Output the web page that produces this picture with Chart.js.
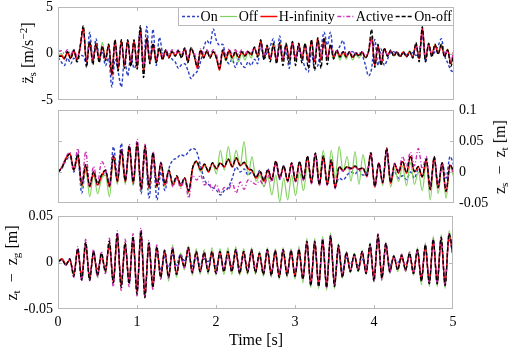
<!DOCTYPE html>
<html>
<head>
<meta charset="utf-8">
<script src="https://cdn.jsdelivr.net/npm/chart.js@4.4.0/dist/chart.umd.min.js"></script>
<style>
  body { margin: 0; background: #fff; }
  #wrap { position: relative; width: 510px; height: 352px; overflow: hidden; font-family: "Liberation Serif", "Times New Roman", serif; color: #000; }
  canvas { position: absolute; left: 0; }
  .lab { position: absolute; white-space: nowrap; font-size: 16px; line-height: 1; transform: translate(-50%, -50%); }
  .rot { transform: translate(-50%, -50%) rotate(-90deg); }
  .lab sub { font-size: 0.7em; vertical-align: -0.25em; line-height: 0; }
  .lab sup { font-size: 0.7em; vertical-align: 0.5em; line-height: 0; }
</style>
</head>
<body>
<div id="wrap">
  <canvas id="c1" width="510" height="108" style="top:0px"></canvas>
  <canvas id="c2" width="510" height="108" style="top:104px"></canvas>
  <canvas id="c3" width="510" height="142" style="top:210px"></canvas>
  <div class="lab rot" style="left:28px;top:53px">z&#776;<sub>s</sub> [m/s<sup>&minus;2</sup>]</div>
  <div class="lab rot" style="left:500px;top:157px">z<sub>s</sub> &nbsp;&minus;&nbsp; z<sub>t</sub> [m]</div>
  <div class="lab rot" style="left:12px;top:263px">z<sub>t</sub> &nbsp;&minus;&nbsp; z<sub>g</sub> [m]</div>
  <div class="lab" style="left:256px;top:340px">Time [s]</div>
</div>
<script>
// series names, in legend order
const seriesNames = ['On', 'Off', 'H-infinity', 'Active', 'On-off'];
const seriesColors = ['#2b40c4', '#80d25e', '#ff0000', '#cc33b4', '#000000'];
const seriesDash = [[3, 2], [], [], [4, 2, 1, 2], [4, 2]];
const seriesWidth = [1.4, 1.2, 1.5, 1.4, 1.3];

// tick labels
const timeTicks = [0, 1, 2, 3, 4, 5];
const accTicks = [-5, 0, 5];
const suspTicks = [-0.05, 0, 0.05, 0.1];
const tyreTicks = [-0.05, 0, 0.05];

// sample times [s]
const time40 = [0,0.04,0.08,0.12,0.16,0.2,0.24,0.28,0.32,0.36,0.4,0.44,0.48,0.52,0.56,0.6,0.64,0.68,0.72,0.76,
  0.8,0.84,0.88,0.92,0.96,1,1.04,1.08,1.12,1.16,1.2,1.24,1.28,1.32,1.36,1.4,1.44,1.48,1.52,1.56,
  1.6,1.64,1.68,1.72,1.76,1.8,1.84,1.88,1.92,1.96,2,2.04,2.08,2.12,2.16,2.2,2.24,2.28,2.32,2.36,
  2.4,2.44,2.48,2.52,2.56,2.6,2.64,2.68,2.72,2.76,2.8,2.84,2.88,2.92,2.96,3,3.04,3.08,3.12,3.16,
  3.2,3.24,3.28,3.32,3.36,3.4,3.44,3.48,3.52,3.56,3.6,3.64,3.68,3.72,3.76,3.8,3.84,3.88,3.92,3.96,
  4,4.04,4.08,4.12,4.16,4.2,4.24,4.28,4.32,4.36,4.4,4.44,4.48,4.52,4.56,4.6,4.64,4.68,4.72,4.76,
  4.8,4.84,4.88,4.92,4.96,5];
const time50 = [0,0.05,0.1,0.15,0.2,0.25,0.3,0.35,0.4,0.45,0.5,0.55,0.6,0.65,0.7,0.75,0.8,0.85,0.9,0.95,
  1,1.05,1.1,1.15,1.2,1.25,1.3,1.35,1.4,1.45,1.5,1.55,1.6,1.65,1.7,1.75,1.8,1.85,1.9,1.95,
  2,2.05,2.1,2.15,2.2,2.25,2.3,2.35,2.4,2.45,2.5,2.55,2.6,2.65,2.7,2.75,2.8,2.85,2.9,2.95,
  3,3.05,3.1,3.15,3.2,3.25,3.3,3.35,3.4,3.45,3.5,3.55,3.6,3.65,3.7,3.75,3.8,3.85,3.9,3.95,
  4,4.05,4.1,4.15,4.2,4.25,4.3,4.35,4.4,4.45,4.5,4.55,4.6,4.65,4.7,4.75,4.8,4.85,4.9,4.95,5];

// body acceleration [m/s^2], sampled on time40
const accOn = [-0.4,-0.9,-1.3,-0.5,-1.1,-0.5,-0.9,-0.2,-0.3,-1.1,
  2.3,-0.6,1.6,-0.2,0.1,-1.3,-0.5,-3.6,-0.6,-2.0,
  -3.6,-0.6,-2.4,-0.2,-1.6,-0.5,2.8,-0.9,2.9,-0.9,
  2.6,-1.3,1.75,0.1,-0.2,0.1,-0.6,-0.9,-1.6,-1.2,
  -1.1,-1.8,-2.7,-2.2,-1.9,-0.9,0.6,1.4,1.0,2.65,
  1.4,0.9,1.0,-0.5,-1.1,-0.6,-1.5,-0.6,-1.2,-1.5,
  -0.9,-1.3,-0.6,-1.1,0.9,-0.6,0.1,0.8,1.6,-0.8,
  1.9,-0.4,0.2,-1.6,1.2,-0.2,0.3,-0.5,-1.5,-2.0,
  0.1,-1.6,-1.3,0.5,2.3,0.9,2.3,-0.2,0.2,0.8,
  1.4,-0.2,0.1,0.2,-0.2,-0.1,-0.2,-1.2,-2.4,-1.6,
  1.5,-1.3,0.5,-1.3,-0.6,0.1,0.2,-0.1,-0.2,0.0,
  -0.1,-0.2,0.1,-0.2,0.2,1.9,-0.9,0.9,-0.2,0.2,
  0.8,1.6,-0.2,-1.0,-1.8,-2.0];
const accOff = [-0.2,0.0,-0.4,0.2,-0.3,0.3,-0.6,0.8,2.6,-0.8,
  1.1,-0.7,1.0,-0.6,1.2,-0.5,1.1,-2.0,1.3,-1.4,
  1.3,-1.2,1.3,-1.0,1.3,-1.3,2.4,-1.8,1.5,-0.8,
  1.0,-0.7,0.6,-0.5,0.4,-0.3,0.3,-0.2,0.3,-0.3,
  0.6,-0.8,0.7,-0.3,-1.4,0.4,-0.4,0.3,-0.5,0.2,
  -0.6,-1.6,0.2,-0.8,0.1,-0.9,0.0,-0.9,0.0,-0.7,
  0.1,-0.5,0.6,-0.3,1.3,-0.5,0.8,-0.6,1.0,-0.7,
  1.1,-0.7,1.1,-0.6,1.2,-0.7,1.0,-0.6,1.1,-0.8,
  1.3,-0.8,1.5,-0.7,1.4,-0.6,0.8,-0.6,0.1,-0.7,
  0.0,-0.6,0.1,-0.7,-0.1,-0.5,0.1,-0.5,0.2,1.5,
  -1.1,0.8,-1.0,0.5,-0.3,0.3,-0.3,0.2,-0.3,0.2,
  -0.3,0.3,-0.3,1.1,-0.5,2.5,-0.5,1.1,-0.1,1.0,
  0.1,1.0,-0.2,0.5,-1.0,0.4];
const accHinf = [-0.4,-0.2,-0.6,0.1,-0.5,0.3,-0.7,0.7,2.8,-0.9,
  1.2,-0.8,1.0,-0.75,0.7,-0.6,0.9,-2.4,1.4,-1.6,
  1.4,-1.3,1.4,-1.1,1.4,-1.5,2.6,-2.0,1.6,-0.9,
  1.0,-0.8,0.5,-0.6,0.3,-0.4,0.15,-0.2,0.2,-0.4,
  0.5,-0.9,0.5,-0.2,-1.6,0.3,-0.4,0.2,-0.4,0.15,
  -0.4,-1.8,0.3,-0.6,0.3,-0.4,0.15,-0.4,0.15,-0.2,
  0.15,-0.1,0.6,-0.2,1.4,-0.4,0.7,-0.6,0.9,-0.75,
  1.0,-0.75,1.0,-0.6,1.2,-0.75,1.0,-0.6,1.0,-0.9,
  1.4,-0.9,1.6,-0.75,1.6,-0.6,0.9,-0.4,0.3,-0.3,
  0.15,-0.3,0.1,-0.4,0.0,-0.2,0.15,-0.4,0.15,1.8,
  -1.3,0.9,-1.1,0.5,-0.2,0.3,-0.2,0.15,-0.3,0.15,
  -0.3,0.15,-0.4,1.0,-0.6,2.8,-0.6,1.0,-0.2,0.9,
  0.0,0.9,-0.2,0.4,-1.1,0.3];
const accActive = [0.2,0.3,0.0,0.4,-0.1,0.4,-0.3,0.5,2.2,-0.6,
  0.9,-0.5,0.8,-0.5,0.6,-0.4,0.7,-1.8,1.1,-1.2,
  1.1,-1.0,1.1,-0.8,1.1,-1.1,2.0,-1.5,1.2,-0.6,
  0.8,-0.5,0.5,-0.3,0.4,-0.1,0.4,0.0,0.4,-0.1,
  0.6,-0.5,0.6,0.1,-1.0,0.5,-0.1,0.4,-0.1,0.4,
  -0.1,-1.2,0.5,-0.3,0.5,-0.1,0.4,-0.1,0.4,0.0,
  0.3,0.0,0.6,0.0,1.1,-0.2,0.6,-0.4,0.7,-0.5,
  0.8,-0.5,0.8,-0.4,0.9,-0.5,0.8,-0.4,0.8,-0.6,
  1.1,-0.6,1.3,-0.5,1.2,-0.4,0.7,-0.2,0.3,-0.1,
  0.2,-0.1,0.2,-0.2,0.1,0.0,0.2,-0.2,0.2,1.4,
  -1.0,0.7,-0.8,0.4,-0.1,0.3,-0.1,0.2,-0.2,0.2,
  -0.2,0.2,-0.3,0.8,-0.4,2.1,-0.4,0.8,-0.1,0.7,
  0.1,0.7,-0.1,0.3,-0.8,0.3];
const accOnoff = [-0.3,-0.3,-0.5,0.2,-0.6,0.4,-0.9,0.8,3.0,-1.5,
  1.3,-1.2,1.1,-1.0,0.8,-0.8,1.0,-2.2,1.5,-1.9,
  1.5,-1.6,1.5,-1.4,1.5,-1.7,3.0,-2.6,1.7,-1.1,
  1.1,-1.0,0.6,-0.7,0.4,-0.5,0.2,-0.3,0.3,-0.5,
  0.6,-1.0,0.6,-0.3,-1.4,0.4,-0.5,0.3,-0.5,0.2,
  -0.5,-1.6,0.4,-0.7,0.4,-0.5,0.2,-0.5,0.2,-0.3,
  0.2,-0.2,0.7,-0.4,1.5,-0.7,0.9,-0.9,1.1,-1.1,
  1.2,-1.3,1.1,-1.1,1.3,-1.3,1.1,-1.0,1.1,-1.6,
  1.5,-1.8,1.7,-1.6,1.7,-1.2,1.0,-0.6,0.4,-0.4,
  0.2,-0.4,0.2,-0.5,0.1,-0.3,0.2,-0.5,0.2,2.6,
  -1.5,1.0,-1.3,0.6,-0.3,0.4,-0.3,0.2,-0.4,0.2,
  -0.4,0.2,-0.5,1.2,-0.9,2.9,-0.9,1.1,-0.4,1.0,
  -0.1,1.0,-0.4,0.4,-1.4,0.2];

// suspension deflection zs - zt [mm], sampled on time50
const suspOn = [0,6,18,25,0,22,-34,5,-25,-5,
  -22,-10,0,-18,41,-5,46,-10,38,-20,
  40,-35,30,-42,20,-45,0,-30,5,19,
  22,28,26,33,38,33,10,-13,-20,-25,
  -29,-37,-30,-25,-10,8,0,5,-5,0,
  -8,3,-12,5,-13,15,-12,10,-14,12,
  -15,16,-12,24,-16,28,-20,22,-20,15,
  -20,-10,-13,-5,0,-3,3,-5,0,25,
  -22,12,-15,30,-12,0,-10,-6,-12,0,
  -10,5,-8,15,-20,18,-20,15,-10,25,
  10];
const suspOff = [0,8,21,28,2,26,-26,8,-40,-2,
  -35,-10,-5,-40,22,-20,32,-20,38,-22,
  43,-32,40,-29,31,-26,16,-24,4,-23,
  -8,-24,-10,-34,8,15,0,10,3,14,
  -3,35,3,41,8,35,10,49,-5,25,
  -15,-5,-24,-8,-37,-5,-48,-10,-45,-5,
  -38,0,-30,10,-10,30,-5,35,-20,35,
  -10,41,0,25,-15,33,-20,28,0,30,
  -24,14,-22,35,-24,5,-15,10,-22,15,
  -20,0,-30,15,-45,18,-35,10,-42,8,
  -10];
const suspHinf = [0,8,22,30,3,28,-22,11,-24,0,
  -21,-6,2,-24,25,-16,35,-16,41,-18,
  46,-29,41,-26,30,-24,14,-21,2,-21,
  -8,-22,-10,-32,6,17,3,12,0,14,
  5,14,8,20,8,22,10,15,5,2,
  -10,0,-15,3,-13,17,-10,9,-15,14,
  -15,16,-13,25,-18,30,-21,25,-21,19,
  -26,8,2,8,5,9,4,6,-7,30,
  -24,14,-18,38,-18,12,-2,17,-2,25,
  0,8,-8,20,-29,24,-26,14,-32,11,
  -2];
const suspActive = [0,8,24,32,5,38,-20,33,-22,9,
  -18,17,5,-22,28,-14,38,-14,45,-16,
  53,-27,45,-24,33,-22,16,-20,2,-24,
  -10,-26,-12,-42,-5,-13,-5,-21,-16,-29,
  -20,-34,-25,-29,-18,-34,-16,-28,-13,-16,
  -20,-14,-22,-5,-16,15,-11,8,-16,13,
  -16,15,-14,24,-19,29,-22,24,-22,18,
  -27,7,1,7,4,8,3,5,-8,33,
  -25,15,-17,36,-15,14,2,25,10,32,
  10,38,5,25,-27,24,-25,15,-30,12,
  -2];
const suspOnoff = [0,7,21,29,4,29,-20,12,-22,1,
  -19,-4,3,-22,26,-14,36,-14,42,-16,
  47,-27,42,-24,31,-22,15,-19,3,-19,
  -6,-20,-9,-30,7,18,4,13,1,15,
  6,15,9,21,9,23,11,16,6,3,
  -9,1,-14,4,-12,18,-9,10,-14,15,
  -14,17,-12,26,-17,31,-20,26,-20,20,
  -25,9,3,9,6,10,5,7,-6,31,
  -23,15,-17,39,-17,13,-1,18,-1,26,
  1,9,-7,21,-28,25,-25,15,-31,12,
  -1];

// tyre deflection zt - zg [mm], sampled on time50
const tyreOn = [1,3,-1,2,-10,11,-13,15,-12,6,
  -7,4,-4,16,-17,24,-20,16,-17,22,
  -27,27,-30,17,-20,11,-8,6,-5,8,
  -3,9,2,8,-4,5,-3,4,1,8,
  -4,6,-2,5,-4,8,-5,6,-4,8,
  -5,6,-8,10,-10,9,-12,11,-11,10,
  -12,11,-14,18,-20,18,-21,20,-22,24,
  -20,12,-9,5,-2,6,-3,4,-5,12,
  -13,24,-12,14,-4,5,0,4,-3,7,
  -8,10,-15,14,-18,20,-18,22,-20,26,
  6];
const tyreOff = [0,4,-2,3,-14,14,-18,21,-20,12,
  -16,10,-11,22,-22,30,-26,22,-22,28,
  -33,33,-37,22,-27,18,-18,14,-20,19,
  -16,10,-8,18,-14,15,-13,14,-13,16,
  -14,15,-13,16,-13,17,-14,15,-13,16,
  -13,12,-15,16,-16,15,-18,16,-16,15,
  -18,17,-22,26,-27,26,-28,28,-30,32,
  -28,20,-17,12,-11,10,-10,13,-13,21,
  -21,30,-19,22,-12,8,-10,9,-10,12,
  -14,16,-24,21,-26,28,-26,30,-28,34,
  10];
const tyreHinf = [0,4,-2,3,-13,14,-17,20,-17,11,
  -13,9,-9,21,-21,29,-25,20,-21,26,
  -32,32,-35,20,-25,16,-15,12,-15,14,
  -12,7,-4,15,-10,11,-9,10,-9,11,
  -11,11,-9,11,-9,13,-11,11,-10,13,
  -10,9,-12,13,-13,12,-15,13,-13,12,
  -14,13,-17,21,-23,21,-24,23,-25,27,
  -24,17,-15,10,-9,8,-8,11,-11,18,
  -18,28,-16,19,-9,6,-7,7,-7,9,
  -11,13,-18,17,-21,23,-21,25,-23,29,
  8];
const tyreActive = [0,3,-3,4,-16,17,-20,25,-20,14,
  -16,12,-12,26,-26,34,-30,25,-26,31,
  -36,37,-37,24,-29,19,-18,14,-17,16,
  -13,9,-6,17,-12,12,-10,12,-10,12,
  -12,12,-10,12,-10,14,-12,12,-11,14,
  -11,10,-13,14,-14,13,-16,14,-14,13,
  -15,14,-18,22,-24,23,-26,26,-27,29,
  -25,18,-16,11,-10,9,-9,12,-12,19,
  -20,31,-19,21,-11,7,-8,9,-9,11,
  -12,14,-20,19,-23,26,-23,28,-25,31,
  9];
const tyreOnoff = [1,3,-3,4,-15,15,-19,22,-19,12,
  -14,10,-10,23,-22,31,-27,21,-23,28,
  -34,34,-38,21,-27,17,-16,13,-16,15,
  -13,8,-5,16,-11,12,-10,11,-10,12,
  -12,12,-10,12,-10,14,-12,12,-11,14,
  -11,10,-13,14,-14,13,-16,14,-14,13,
  -15,14,-18,23,-25,23,-26,25,-27,29,
  -26,19,-16,11,-10,9,-9,12,-12,20,
  -20,30,-17,21,-10,7,-8,8,-8,10,
  -12,14,-20,19,-23,25,-23,27,-25,31,
  9];

Chart.defaults.font.family = '"Liberation Serif", "Times New Roman", serif';
const tickFont = { family: '"Liberation Serif", "Times New Roman", serif', size: 14 };
const frameColor = '#b9b9b9';

function buildSets(times, arrays, unit) {
  return arrays.map((vals, i) => ({
    label: seriesNames[i],
    data: vals.map((v, j) => ({ x: times[j], y: v * unit })),
    borderColor: seriesColors[i],
    borderWidth: seriesWidth[i],
    borderDash: seriesDash[i],
    pointRadius: 0,
    fill: false,
    cubicInterpolationMode: 'monotone',
    order: seriesNames.length - i   // last series ends up on top
  }));
}

function xScale(showLabels, height) {
  return {
    type: 'linear', min: 0, max: 5,
    afterBuildTicks: s => { s.ticks = timeTicks.map(v => ({ value: v })); },
    grid: { display: false, drawTicks: false },
    border: { display: false },
    ticks: { display: showLabels, autoSkip: false, maxRotation: 0, padding: 5, font: tickFont, color: '#000', callback: v => String(v) },
    afterFit: s => { s.height = height; s.paddingLeft = 0; s.paddingRight = 0; }
  };
}

function yScale(min, max, ticks, position, width) {
  return {
    type: 'linear', min: min, max: max, position: position,
    afterBuildTicks: s => { s.ticks = ticks.map(v => ({ value: v })); },
    grid: { display: false, drawTicks: false },
    border: { display: false },
    ticks: { autoSkip: false, padding: 5, font: tickFont, color: '#000', callback: v => String(v) },
    afterFit: s => { s.width = width; s.paddingTop = 0; s.paddingBottom = 0; }
  };
}

// box round the axes with short inward tick marks, like the original plot
const framePlugin = {
  id: 'frame',
  afterDatasetsDraw(chart) {
    const { ctx, chartArea: a } = chart;
    const x = chart.scales.x, y = chart.scales.y;
    ctx.save();
    ctx.strokeStyle = frameColor;
    ctx.lineWidth = 1;
    ctx.setLineDash([]);
    ctx.strokeRect(a.left + 0.5, a.top + 0.5, a.right - a.left - 1, a.bottom - a.top - 1);
    ctx.beginPath();
    x.ticks.forEach(t => {
      const px = Math.round(x.getPixelForValue(t.value)) + 0.5;
      if (px < a.left + 2 || px > a.right - 2) return;
      ctx.moveTo(px, a.top); ctx.lineTo(px, a.top + 4);
      ctx.moveTo(px, a.bottom); ctx.lineTo(px, a.bottom - 4);
    });
    y.ticks.forEach(t => {
      const py = Math.round(y.getPixelForValue(t.value)) + 0.5;
      if (py < a.top + 2 || py > a.bottom - 2) return;
      ctx.moveTo(a.left, py); ctx.lineTo(a.left + 4, py);
      ctx.moveTo(a.right, py); ctx.lineTo(a.right - 4, py);
    });
    ctx.stroke();
    ctx.restore();
  }
};

// boxed one-row legend in the top right corner of the first panel
const legendPlugin = {
  id: 'boxLegend',
  afterDraw(chart) {
    const { ctx, chartArea: a } = chart;
    const sets = chart.data.datasets;
    const lineLen = 17, gapIn = 1.5, gapOut = 2.5, h = 18;
    ctx.save();
    ctx.font = '14px "Liberation Serif"';
    let total = 0;
    sets.forEach((d, i) => {
      total += lineLen + gapIn + ctx.measureText(d.label).width + (i < sets.length - 1 ? gapOut : 0);
    });
    const right = a.right - 2;
    let x = right - total;
    const boxL = x - 4, top = a.top;
    ctx.fillStyle = '#fff';
    ctx.fillRect(boxL, top, a.right - boxL, h);
    ctx.strokeStyle = frameColor;
    ctx.lineWidth = 1;
    ctx.strokeRect(Math.round(boxL) + 0.5, top + 0.5, a.right - Math.round(boxL) - 1, h);
    const cy = top + h / 2 + 0.5;
    sets.forEach(d => {
      ctx.strokeStyle = d.borderColor;
      ctx.lineWidth = d.borderWidth;
      ctx.setLineDash(d.borderDash);
      ctx.beginPath();
      ctx.moveTo(x, cy); ctx.lineTo(x + lineLen, cy);
      ctx.stroke();
      ctx.setLineDash([]);
      x += lineLen + gapIn;
      ctx.fillStyle = '#000';
      ctx.textBaseline = 'middle';
      ctx.fillText(d.label, x, cy + 0.5);
      x += ctx.measureText(d.label).width + gapOut;
    });
    ctx.restore();
  }
};

function baseOptions(padding, scales) {
  return {
    responsive: false,
    animation: false,
    events: [],
    layout: { autoPadding: false, padding: padding },
    plugins: { legend: { display: false }, tooltip: { enabled: false } },
    scales: scales
  };
}

new Chart(document.getElementById('c1'), {
  type: 'line',
  data: { datasets: buildSets(time40, [accOn, accOff, accHinf, accActive, accOnoff], 1) },
  options: baseOptions({ top: 7, right: 56, bottom: 0, left: 0 }, {
    x: xScale(false, 8),
    y: yScale(-5, 5, accTicks, 'left', 58)
  }),
  plugins: [framePlugin, legendPlugin]
});

new Chart(document.getElementById('c2'), {
  type: 'line',
  data: { datasets: buildSets(time50, [suspOn, suspOff, suspHinf, suspActive, suspOnoff], 0.001) },
  options: baseOptions({ top: 6, right: 0, bottom: 0, left: 58 }, {
    x: xScale(false, 9),
    y: yScale(-0.05, 0.1, suspTicks, 'right', 56)
  }),
  plugins: [framePlugin]
});

new Chart(document.getElementById('c3'), {
  type: 'line',
  data: { datasets: buildSets(time50, [tyreOn, tyreOff, tyreHinf, tyreActive, tyreOnoff], 0.001) },
  options: baseOptions({ top: 6, right: 57, bottom: 0, left: 0 }, {
    x: xScale(true, 43),
    y: yScale(-0.05, 0.05, tyreTicks, 'left', 58)
  }),
  plugins: [framePlugin]
});
</script>
</body>
</html>
